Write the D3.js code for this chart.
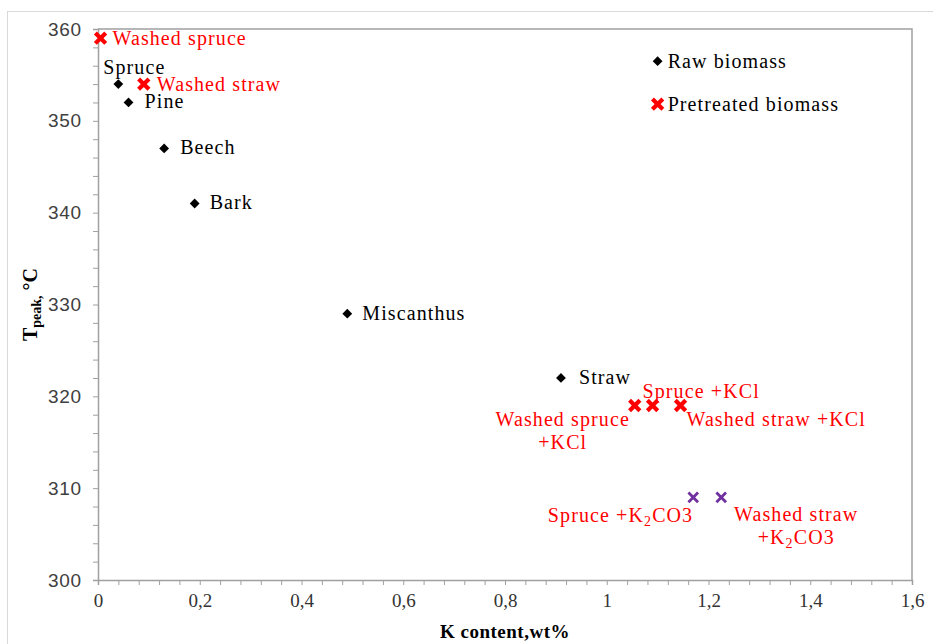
<!DOCTYPE html>
<html>
<head>
<meta charset="utf-8">
<script src="https://cdn.jsdelivr.net/npm/d3@7"></script>
<style>
  html, body { margin: 0; padding: 0; background: #fff; }
  svg { display: block; }
</style>
</head>
<body>
<svg id="chart" width="933" height="644"></svg>
<script>
// Peak temperature vs potassium content for raw and pretreated biomass
const rawNames = ["Spruce", "Pine", "Beech", "Bark", "Miscanthus", "Straw"];
const rawK = [0.04, 0.06, 0.13, 0.19, 0.49, 0.91];
const rawT = [354, 352, 347, 341, 329, 322];

const pretreatedNames = ["Washed spruce", "Washed straw", "Washed spruce +KCl", "Spruce +KCl", "Washed straw +KCl"];
const pretreatedK = [0.005, 0.09, 1.055, 1.09, 1.145];
const pretreatedT = [359, 354, 319, 319, 319];

const carbonateNames = ["Spruce +K2CO3", "Washed straw +K2CO3"];
const carbonateK = [1.17, 1.225];
const carbonateT = [309, 309];

const xTickValues = [0, 0.2, 0.4, 0.6, 0.8, 1, 1.2, 1.4, 1.6];
const yTickValues = [300, 310, 320, 330, 340, 350, 360];

const legendLabels = ["Raw biomass", "Pretreated biomass"];

// label placement: anchor, offset from the marker (px), line layout
const labelLayout = {
  "Spruce":              { anchor: "middle", dx: 16,  dy: -10, lines: ["Spruce"] },
  "Pine":                { anchor: "start",  dx: 16,  dy: 6,   lines: ["Pine"] },
  "Beech":               { anchor: "start",  dx: 16,  dy: 6,   lines: ["Beech"] },
  "Bark":                { anchor: "start",  dx: 15,  dy: 6,   lines: ["Bark"] },
  "Miscanthus":          { anchor: "start",  dx: 15,  dy: 6,   lines: ["Miscanthus"] },
  "Straw":               { anchor: "start",  dx: 18,  dy: 6,   lines: ["Straw"] },
  "Washed spruce":       { anchor: "start",  dx: 12,  dy: 7,   lines: ["Washed spruce"] },
  "Washed straw":        { anchor: "start",  dx: 13,  dy: 7,   lines: ["Washed straw"] },
  "Washed spruce +KCl":  { anchor: "middle", dx: -72, dy: 20,  lines: ["Washed spruce", "+KCl"] },
  "Spruce +KCl":         { anchor: "start",  dx: -10, dy: -8,  lines: ["Spruce +KCl"] },
  "Washed straw +KCl":   { anchor: "start",  dx: 6,   dy: 20,  lines: ["Washed straw +KCl"] },
  "Spruce +K2CO3":       { anchor: "end",    dx: 0,   dy: 25,  lines: ["Spruce +K2CO3"] },
  "Washed straw +K2CO3": { anchor: "middle", dx: 75,  dy: 24,  lines: ["Washed straw", "+K2CO3"] }
};

const W = 933, H = 644;
const margin = { left: 98, right: 20, top: 29, bottom: 64 };
const svg = d3.select("#chart");

const serif = "'Liberation Serif', 'Times New Roman', serif";
const sans = "'Liberation Sans', Arial, sans-serif";

// outer chart frame
svg.append("rect")
  .attr("x", 7.5).attr("y", 11.5)
  .attr("width", W + 10).attr("height", H + 10)
  .attr("fill", "none").attr("stroke", "#d9d9d9").attr("stroke-width", 1);

const x = d3.scaleLinear().domain([0, 1.6]).range([margin.left, W - margin.right - 1]);
const y = d3.scaleLinear().domain([300, 360]).range([H - margin.bottom, margin.top]);

// plot area outline (top and right)
const axisColor = "#a0a0a0";
svg.append("path")
  .attr("d", `M${x(0)},${y(360)}H${x(1.6)}V${y(300)}`)
  .attr("fill", "none").attr("stroke", axisColor).attr("stroke-width", 1.5);

// minor ticks
const xMinor = d3.range(0, 41).map(i => i * 0.04);
const yMinor = d3.range(0, 31).map(i => 300 + i * 2);

const xAxis = svg.append("g").attr("transform", `translate(0,${y(300)})`);
xAxis.call(d3.axisBottom(x).tickValues(xMinor).tickSize(5).tickFormat(""));
xAxis.select(".domain").attr("stroke", axisColor).attr("stroke-width", 1.5);
xAxis.selectAll(".tick line").attr("stroke", axisColor);

const xLabels = svg.append("g").attr("transform", `translate(0,${y(300)})`);
xLabels.call(d3.axisBottom(x).tickValues(xTickValues).tickSize(0).tickPadding(14)
  .tickFormat(d => String(d).replace(".", ",")));
xLabels.select(".domain").remove();
xLabels.selectAll("text")
  .attr("font-family", serif).attr("font-size", 19).attr("fill", "#333");

const yAxis = svg.append("g").attr("transform", `translate(${x(0)},0)`);
yAxis.call(d3.axisLeft(y).tickValues(yMinor).tickSize(5).tickFormat(""));
yAxis.select(".domain").attr("stroke", axisColor).attr("stroke-width", 1.5);
yAxis.selectAll(".tick line").attr("stroke", axisColor);

const yLabels = svg.append("g").attr("transform", `translate(${x(0)},0)`);
yLabels.call(d3.axisLeft(y).tickValues(yTickValues).tickSize(0).tickPadding(16));
yLabels.select(".domain").remove();
yLabels.selectAll("text")
  .attr("font-family", sans).attr("font-size", 19).attr("fill", "#404040")
  .attr("letter-spacing", 0.8);

// axis titles
svg.append("text")
  .attr("x", (x(0) + x(1.6)) / 2).attr("y", 638)
  .attr("text-anchor", "middle")
  .attr("font-family", serif).attr("font-weight", "bold").attr("font-size", 19)
  .attr("letter-spacing", 0.5)
  .text("K content,wt%");

const yTitle = svg.append("text")
  .attr("transform", `translate(37,${(y(300) + y(360)) / 2}) rotate(-90)`)
  .attr("text-anchor", "middle")
  .attr("font-family", serif).attr("font-weight", "bold").attr("font-size", 20);
yTitle.append("tspan").text("T");
yTitle.append("tspan").attr("font-size", 14).attr("dy", 4).text("peak,");
yTitle.append("tspan").attr("dy", -4).text(" \u00B0C");

// markers
const diamond = d3.symbol(d3.symbolSquare, 48)();
const cross = d3.symbol(d3.symbolX, 72)();
const smallCross = d3.symbol(d3.symbolX, 62)();

const rawData = rawNames.map((n, i) => ({ name: n, k: rawK[i], t: rawT[i] }));
const preData = pretreatedNames.map((n, i) => ({ name: n, k: pretreatedK[i], t: pretreatedT[i] }));
const carbData = carbonateNames.map((n, i) => ({ name: n, k: carbonateK[i], t: carbonateT[i] }));

svg.append("g").selectAll("path").data(rawData).join("path")
  .attr("d", diamond)
  .attr("transform", d => `translate(${x(d.k)},${y(d.t)}) rotate(45)`)
  .attr("fill", "#000");

svg.append("g").selectAll("path").data(preData).join("path")
  .attr("d", cross)
  .attr("transform", d => `translate(${x(d.k)},${y(d.t)})`)
  .attr("fill", "none").attr("stroke", "#ff0000").attr("stroke-width", 4.2);

svg.append("g").selectAll("path").data(carbData).join("path")
  .attr("d", smallCross)
  .attr("transform", d => `translate(${x(d.k)},${y(d.t)})`)
  .attr("fill", "none").attr("stroke", "#7030a0").attr("stroke-width", 2.8);

// write a label, rendering "K2CO3" with a subscript 2
function writeLine(textSel, line) {
  const parts = line.split(/(K2CO3)/);
  parts.forEach(p => {
    if (p === "K2CO3") {
      textSel.append("tspan").text("K");
      textSel.append("tspan").attr("font-size", 14).attr("dy", 4).text("2");
      textSel.append("tspan").attr("dy", -4).text("CO3");
    } else if (p.length) {
      textSel.append("tspan").text(p);
    }
  });
}

function drawLabels(data, color) {
  data.forEach(d => {
    const L = labelLayout[d.name];
    L.lines.forEach((line, li) => {
      const t = svg.append("text")
        .attr("x", x(d.k) + L.dx)
        .attr("y", y(d.t) + L.dy + li * 23)
        .attr("text-anchor", L.anchor)
        .attr("font-family", serif).attr("font-size", 20)
        .attr("letter-spacing", 1.1)
        .attr("fill", color);
      writeLine(t, line);
    });
  });
}
drawLabels(rawData, "#000");
drawLabels(preData, "#ff0000");
drawLabels(carbData, "#ff0000");

// legend
const legend = svg.append("g").attr("transform", `translate(${x(1.1)},${y(356.5)})`);
legend.append("path").attr("d", diamond).attr("transform", "rotate(45)").attr("fill", "#000");
legend.append("path").attr("d", cross).attr("transform", "translate(0,43)")
  .attr("fill", "none").attr("stroke", "#ff0000").attr("stroke-width", 4.2);
legendLabels.forEach((lbl, i) => {
  legend.append("text")
    .attr("x", 10).attr("y", i * 43 + 7)
    .attr("font-family", serif).attr("font-size", 20)
    .attr("letter-spacing", 1.1).attr("fill", "#000")
    .text(lbl);
});
</script>
</body>
</html>
